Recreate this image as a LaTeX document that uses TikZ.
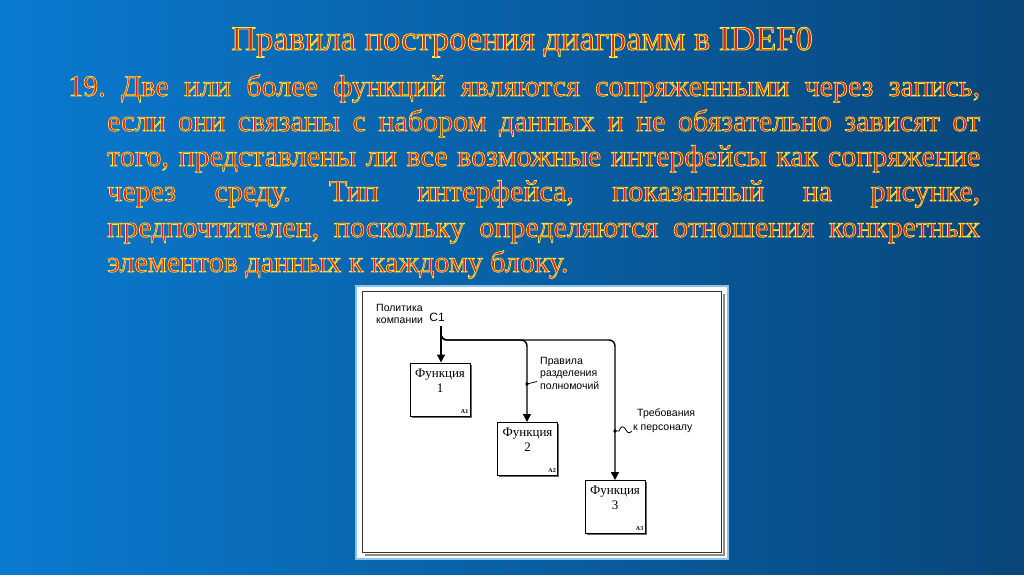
\documentclass[tikz,border=0pt]{standalone}
\usepackage{fontspec}
\setmainfont{Liberation Serif}
\newfontfamily\diagsans{Liberation Sans}
\usetikzlibrary{arrows.meta,shadows}
\definecolor{bgL}{RGB}{10,122,208}
\definecolor{bgR}{RGB}{8,70,122}
\definecolor{fillred}{RGB}{228,30,20}
\definecolor{panelborder}{RGB}{140,195,235}
\frenchspacing
% red fill with a yellow stroke (text render mode 2)
\newcommand\outl[2]{\special{pdf:literal direct 2 Tr #1 w 1 0.92 0.25 RG}#2\special{pdf:literal direct 0 Tr}}
\tikzset{
  titletxt/.style={font=\fontsize{34.5}{40}\selectfont, inner sep=0, anchor=base, text=fillred},
  bodytxt/.style={font=\fontsize{30}{35}\selectfont, inner sep=0, anchor=base west, text=fillred},
  fbox/.style={draw, line width=1pt, fill=white, minimum width=60pt, minimum height=53pt, inner sep=0,
    drop shadow={shadow xshift=1.5pt, shadow yshift=-1.5pt, fill=black!60, opacity=1}},
  boxtxt/.style={font=\fontsize{13}{15}\selectfont, align=center, inner sep=0, anchor=north},
  boxid/.style={font=\bfseries\fontsize{6}{7}\selectfont, inner sep=0, anchor=south east},
  flow/.style={line width=1.4pt, -{Triangle[width=8pt,length=8pt]}},
  lbl/.style={font=\diagsans\fontsize{10.5}{12.5}\selectfont, align=left, inner sep=0, anchor=north west},
}
\begin{document}
\begin{tikzpicture}[x=1pt,y=-1pt]
\useasboundingbox (0,0) rectangle (1024,574);
\shade[left color=bgL,right color=bgR] (0,0) rectangle (1024,574);

% title
\node[titletxt] (title) at (522,50) {\outl{0.8}{Правила построения диаграмм в IDEF0}};

% body text
\node[bodytxt] (l1) at (68,96) {\outl{0.65}{\makebox[912pt][s]{19. Две или более функций являются сопряженными через запись,}}};
\node[bodytxt] (l2) at (107,131) {\outl{0.65}{\makebox[873pt][s]{если они связаны с набором данных и не обязательно зависят от}}};
\node[bodytxt] (l3) at (107,166) {\outl{0.65}{\makebox[873pt][s]{того, представлены ли все возможные интерфейсы как сопряжение}}};
\node[bodytxt] (l4) at (107,201) {\outl{0.65}{\makebox[873pt][s]{через среду. Тип интерфейса, показанный на рисунке,}}};
\node[bodytxt] (l5) at (107,237) {\outl{0.65}{\makebox[873pt][s]{предпочтителен, поскольку определяются отношения конкретных}}};
\node[bodytxt] (l6) at (107,272) {\outl{0.65}{элементов данных к каждому блоку.}};

% panel
\draw[panelborder, line width=2pt, fill=white] (356,286) rectangle (728,559);
\draw[black!45, line width=2.5pt] (724,294) -- (724,555) -- (365,555);
\draw[black!80, line width=0.9pt] (362,291) rectangle (721,552);

% boxes
\node[fbox] (f1) at (440,389.5) {};
\node[fbox] (f2) at (527.5,449) {};
\node[fbox] (f3) at (615,507) {};
\node[boxtxt] (f1t) at ([yshift=-6pt]f1.north) {Функция\\1};
\node[boxtxt] (f2t) at ([yshift=-6pt]f2.north) {Функция\\2};
\node[boxtxt] (f3t) at ([yshift=-6pt]f3.north) {Функция\\3};
\node[boxid] (f1a) at ([xshift=-2pt,yshift=3pt]f1.south east) {A1};
\node[boxid] (f2a) at ([xshift=-2pt,yshift=3pt]f2.south east) {A2};
\node[boxid] (f3a) at ([xshift=-2pt,yshift=3pt]f3.south east) {A3};

% labels
\node[lbl] (pol) at (376,304) {Политика\\компании};
\node[font=\diagsans\fontsize{12}{14}\selectfont, inner sep=0] (c1lbl) at (437,317) {C1};
\node[lbl] (prav) at (540,357) {Правила\\разделения\\полномочий};
\node[lbl, font=\diagsans\fontsize{10.5}{14}\selectfont] (treb) at (633,409) {\hspace*{4pt}Требования\\к персоналу};

% connectors
\coordinate (c1) at (441,326);
\coordinate (j) at (441,340);
\coordinate (b2) at (527,340);
\coordinate (b3) at (615,340);
\draw[flow] (c1) -- (c1 |- f1.north);
\draw[flow, rounded corners=6pt] (441,330) -- (j) -- (b2) -- (b2 |- f2.north);
\draw[flow, rounded corners=6pt] (441,330) -- (j) -- (b3) -- (b3 |- f3.north);

% squiggles
\coordinate (d1) at (527,384);
\coordinate (d2) at (615,431);
\fill (d1) circle (1.9pt);
\fill (d2) circle (1.9pt);
\draw[line width=0.8pt] (d1) -- (537,381.5);
\draw[line width=0.8pt] (d2) -- (619,431) .. controls (621,425) and (624,426) .. (626,430) .. controls (628,434) and (630,433) .. (632,431);
\end{tikzpicture}
\end{document}
